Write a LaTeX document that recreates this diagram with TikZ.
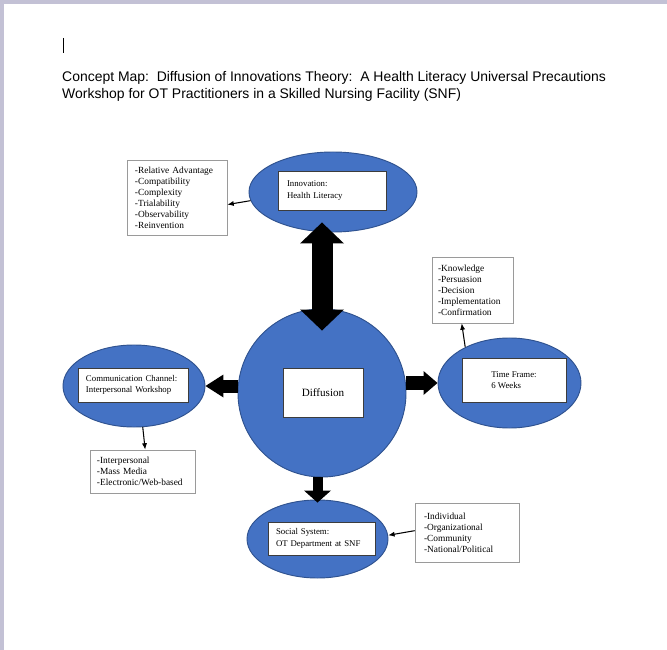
\documentclass[tikz,border=0pt]{standalone}
\usepackage{fontspec}
\setmainfont{Liberation Serif}
\newfontfamily\titlefont{Liberation Sans}
\usepackage{tikz}
\usetikzlibrary{shapes.geometric, arrows.meta, calc}
\definecolor{ellblue}{HTML}{4472C4}
\definecolor{elledge}{HTML}{2F528F}
\definecolor{tagedge}{HTML}{3C3C3C}
\definecolor{listedge}{HTML}{9A9A9A}
\definecolor{frame}{HTML}{C3C1D5}

\begin{document}
\begin{tikzpicture}[x=0.03cm, y=-0.03cm,
        blob/.style={ellipse, fill=ellblue, draw=elledge, line width=0.8pt, inner sep=0pt},
        tag/.style={rectangle, fill=white, draw=tagedge, line width=0.5pt, align=left,
            inner ysep=0pt, font=\fontsize{7.5}{9.8}\selectfont},
        list/.style={rectangle, fill=white, draw=listedge, line width=0.5pt, align=left,
            inner ysep=0pt, font=\fontsize{8}{9.4}\selectfont},
        pointer/.style={-{Latex[length=5.5pt, width=4.4pt]}, line width=0.9pt}]
        \useasboundingbox (0,0) rectangle (667,650);
        \fill[frame] (0,0) rectangle (667,4.5);
        \fill[frame] (0,0) rectangle (4,650);
        \draw[line width=0.6pt] (63,38) -- (63,53);
        \node[anchor=north west, inner sep=0pt, align=left,
            font=\titlefont\fontsize{11.9}{14.5}\selectfont] (title) at (62,71.5)
            {Concept Map:\ \ Diffusion of Innovations Theory:\ \ A Health Literacy Universal Precautions\\
            Workshop for OT Practitioners in a Skilled Nursing Facility (SNF)};
        \node[blob, minimum width=5.04cm, minimum height=2.4cm] (innov) at (333,192) {};
        \node[circle, fill=ellblue, draw=elledge, line width=0.8pt, inner sep=0pt,
            minimum size=5.04cm] (diff) at (322,393) {};
        \node[blob, minimum width=4.26cm, minimum height=2.46cm] (comm) at (134,386) {};
        \node[blob, minimum width=4.29cm, minimum height=2.7cm] (time) at (509.5,383) {};
        \node[blob, minimum width=4.23cm, minimum height=2.34cm] (social) at (317.5,539) {};
        \node[tag, text width=2.7cm, inner xsep=0.27cm, minimum height=1.17cm] (innovbox)
            at (332,190.5) {Innovation:\\Health Literacy};
        \node[tag, minimum width=2.4cm, minimum height=1.47cm, align=center,
            font=\fontsize{9.5}{11}\selectfont] (diffbox) at (323,392.5) {Diffusion};
        \node[tag, text width=2.82cm, inner xsep=0.24cm, minimum height=1.02cm] (commbox)
            at (133,385) {Communication Channel:\\Interpersonal Workshop};
        \node[tag, minimum width=3.12cm, minimum height=1.32cm] (timebox)
            at (514,380) {Time Frame:\\6 Weeks};
        \node[tag, text width=2.73cm, inner xsep=0.24cm, minimum height=0.99cm] (socbox)
            at (321.5,538.5) {Social System:\\OT Department at SNF};
        \node[list, text width=2.52cm, inner xsep=0.24cm, minimum height=2.25cm] (advlist)
            at (177,197.5) {-Relative Advantage\\-Compatibility\\-Complexity\\-Trialability\\-Observability\\-Reinvention};
        \node[list, text width=2.07cm, inner xsep=0.18cm, minimum height=1.98cm] (timelist)
            at (472.5,290) {-Knowledge\\-Persuasion\\-Decision\\-Implementation\\-Confirmation};
        \node[list, text width=2.73cm, inner xsep=0.21cm, minimum height=1.29cm] (commlist)
            at (142.5,471.5) {-Interpersonal\\-Mass Media\\-Electronic/Web-based};
        \node[list, text width=2.58cm, inner xsep=0.27cm, minimum height=1.77cm] (soclist)
            at (467,532.5) {-Individual\\-Organizational\\-Community\\-National/Political};
        \draw[line width=0.63cm, {Triangle[length=0.63cm, width=1.32cm, line width=0pt]}-{Triangle[length=0.63cm, width=1.32cm, line width=0pt]}]
            ($(diff.north |- innov.south)+(0,-10)$) -- ($(diff.north)+(0,22)$);
        \draw[line width=0.39cm, -{Triangle[length=0.54cm, width=0.69cm, line width=0pt]}]
            (comm.east -| diff.west) -- (comm.east);
        \draw[line width=0.42cm, -{Triangle[length=0.42cm, width=0.72cm, line width=0pt]}]
            (time.west -| diff.east) -- (time.west);
        \draw[line width=0.3cm, -{Triangle[length=0.36cm, width=0.81cm, line width=0pt]}]
            (social.north |- diff.south) -- ($(social.north)+(0,3)$);
        \draw[pointer] (innov.186) -- (advlist.-8);
        \draw[pointer] (comm.-78) -- (commlist.83);
        \draw[pointer] (time.141) -- (timelist.-108);
        \draw[pointer] (soclist.178) -- (social.3);
\end{tikzpicture}
\end{document}
